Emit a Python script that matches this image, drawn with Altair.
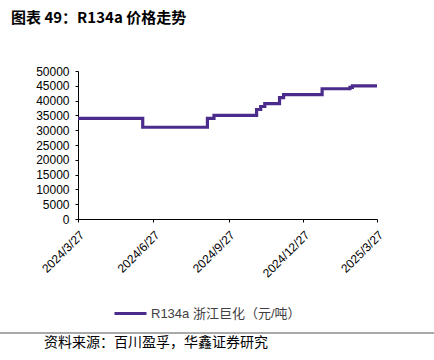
import altair as alt
import pandas as pd

# ---- data ----
dates = ["2024-03-27", "2024-06-14", "2024-09-01", "2024-09-09", "2024-10-31",
         "2024-11-05", "2024-11-10", "2024-11-28", "2024-12-03", "2025-01-19",
         "2025-02-22", "2025-02-25", "2025-03-27"]
prices = [34000, 31000, 34000, 35000, 37000, 38000, 39000, 41000, 42000, 44000,
          44500, 45000, 45000]
series_name = "R134a 浙江巨化（元/吨）"
x_tick_dates = [(2024, 3, 27), (2024, 6, 27), (2024, 9, 27), (2024, 12, 27), (2025, 3, 27)]
y_ticks = [0, 5000, 10000, 15000, 20000, 25000, 30000, 35000, 40000, 45000, 50000]
title_text = ["图表 49：R134a 价格走势"]
source_text = ["资料来源：百川盈孚，华鑫证券研究"]

LINE_COLOR = "#4B2C8C"
LATIN = "Liberation Sans, Arial, Noto Sans CJK SC"
CJK = "Noto Sans CJK SC"

df = pd.DataFrame({"date": dates, "price": prices, "series": series_name})

x_vals = [alt.DateTime(year=y, month=m, date=d, utc=True) for (y, m, d) in x_tick_dates]

line = alt.Chart(df).mark_line(interpolate="step-after", strokeWidth=3.2).encode(
    x=alt.X(
        "date:T",
        scale=alt.Scale(type="utc", domain=[x_vals[0], x_vals[-1]]),
        axis=alt.Axis(
            values=x_vals,
            labelExpr="utcFormat(datum.value, '%Y/%-m/%-d')",
            labelAngle=-45, labelAlign="right", labelBaseline="top",
            labelPadding=7, tickSize=3, title=None, grid=False,
            labelFont=LATIN, labelFontSize=12, labelColor="#000000",
            domainColor="#000000", tickColor="#000000",
        ),
    ),
    y=alt.Y(
        "price:Q",
        scale=alt.Scale(domain=[0, 50000], nice=False),
        axis=alt.Axis(
            values=y_ticks, format="d", title=None, grid=False,
            tickSize=3, labelPadding=6,
            labelFont=LATIN, labelFontSize=12, labelColor="#000000",
            domainColor="#000000", tickColor="#000000",
        ),
    ),
    color=alt.Color(
        "series:N",
        scale=alt.Scale(range=[LINE_COLOR]),
        legend=alt.Legend(
            title=None, orient="none", legendX=35, legendY=225,
            symbolType="stroke", symbolSize=1024, symbolStrokeWidth=3,
            labelFont=LATIN, labelFontSize=13, labelColor="#404040",
            labelOffset=3,
        ),
    ),
)

title = alt.Chart(pd.DataFrame({"t": title_text})).mark_text(
    align="left", baseline="middle", font=CJK, fontSize=15, fontWeight="bold",
    color="#000000",
).encode(x=alt.value(-67), y=alt.value(-53), text="t:N")

rule = alt.Chart(pd.DataFrame({"t": source_text})).mark_rule(
    color="#8c8c8c", strokeWidth=1.5
).encode(x=alt.value(-78), x2=alt.value(356), y=alt.value(262))

source = alt.Chart(pd.DataFrame({"t": source_text})).mark_text(
    align="left", baseline="middle", font=CJK, fontSize=14, color="#000000",
).encode(x=alt.value(-34), y=alt.value(272), text="t:N")

chart = alt.layer(line, title, rule, source).properties(
    width=299, height=148,
    padding={"left": 78, "top": 71, "right": 57, "bottom": 141},
    autosize=alt.AutoSizeParams(type="none"),
    background="#ffffff",
).configure_view(strokeWidth=0)

chart.save("out.html", embed_options={"renderer": "svg", "actions": False})
